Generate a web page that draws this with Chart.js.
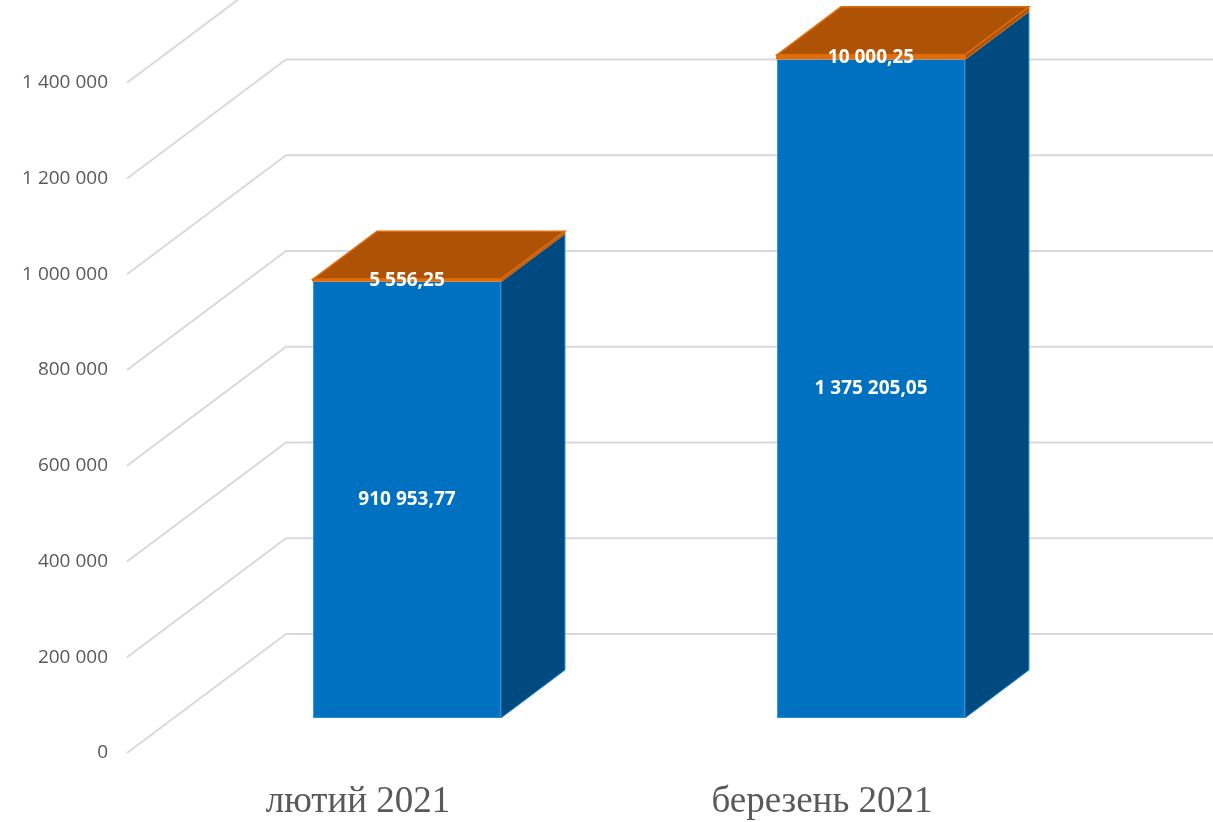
<!DOCTYPE html>
<html>
<head>
<meta charset="utf-8">
<script src="https://cdn.jsdelivr.net/npm/chart.js@4"></script>
<style>
  html, body { margin: 0; padding: 0; background: #fff; overflow: hidden; }
  canvas { display: block; }
</style>
</head>
<body>
<canvas id="chart" width="1213" height="822"></canvas>
<script>
// данi графiка
const categories   = ['лютий 2021', 'березень 2021'];
const blueValues   = [910953.77, 1375205.05];
const orangeValues = [5556.25, 10000.25];
const tickValues   = [0, 200000, 400000, 600000, 800000, 1000000, 1200000, 1400000];

// вiдступи псевдо-3D
const wallDepth = { x: 160, y: 119 };
const barShift  = { x: 49, y: 35 };
const barDepth  = { x: 64, y: 48 };

function formatTick(v) {
  return String(v).replace(/\B(?=(\d{3})+(?!\d))/g, ' ');
}
function formatValue(v) {
  const parts = v.toFixed(2).split('.');
  return formatTick(parts[0]) + ',' + parts[1];
}

function face(ctx, pts, fill, stroke, lw) {
  ctx.beginPath();
  pts.forEach((p, i) => i ? ctx.lineTo(p[0], p[1]) : ctx.moveTo(p[0], p[1]));
  ctx.closePath();
  ctx.fillStyle = fill;
  ctx.fill();
  if (stroke) {
    ctx.strokeStyle = stroke;
    ctx.lineWidth = lw || 1;
    ctx.stroke();
  }
}

const fake3d = {
  id: 'fake3d',
  beforeDatasetsDraw(chart) {
    const { ctx, chartArea, scales } = chart;
    // сiтка: дiагональ + задня стiнка
    ctx.save();
    ctx.strokeStyle = '#d9d9d9';
    ctx.lineWidth = 2;
    ctx.lineJoin = 'round';
    scales.y.ticks.forEach(t => {
      const py = scales.y.getPixelForValue(t.value);
      ctx.beginPath();
      ctx.moveTo(chartArea.left + 1, py);
      ctx.lineTo(chartArea.left + wallDepth.x, py - wallDepth.y);
      ctx.lineTo(chartArea.right + wallDepth.x, py - wallDepth.y);
      ctx.stroke();
    });
    ctx.restore();

    // бiчнi грані та верх стовпчикiв
    ctx.save();
    ctx.translate(barShift.x, -barShift.y);
    const blue = chart.getDatasetMeta(0).data;
    const orange = chart.getDatasetMeta(1).data;
    blue.forEach((b, i) => {
      const o = orange[i];
      const xr = b.x + b.width / 2;
      const xl = b.x - b.width / 2;
      face(ctx, [[xr, b.y], [xr + barDepth.x, b.y - barDepth.y], [xr + barDepth.x, b.base - barDepth.y], [xr, b.base]], '#004a7f', '#1a8fdd', 1);
      face(ctx, [[xr, o.y], [xr + barDepth.x, o.y - barDepth.y], [xr + barDepth.x, o.base - barDepth.y], [xr, o.base]], '#ad5206', '#e36c0a', 1);
      face(ctx, [[xl, o.y], [xl + barDepth.x, o.y - barDepth.y], [xr + barDepth.x, o.y - barDepth.y], [xr, o.y]], '#ae5205', '#e36c0a', 1.5);
    });
    // сам chart.js малює переднi грані в цьому ж зсувi
    ctx.restore();
    ctx.save();
    ctx.translate(barShift.x, -barShift.y);
  },
  afterDatasetsDraw(chart) {
    const { ctx } = chart;
    ctx.font = 'bold 19px "Open Sans"';
    ctx.fillStyle = '#ffffff';
    ctx.textAlign = 'center';
    ctx.textBaseline = 'middle';
    chart.data.datasets.forEach((ds, di) => {
      chart.getDatasetMeta(di).data.forEach((el, i) => {
        ctx.fillText(formatValue(ds.data[i]), el.x, (el.y + el.base) / 2);
      });
    });
    ctx.restore();
  }
};

new Chart(document.getElementById('chart'), {
  type: 'bar',
  plugins: [fake3d],
  data: {
    labels: categories,
    datasets: [
      { data: blueValues, backgroundColor: '#0070c0', borderColor: '#1a8fdd', borderWidth: 1, borderSkipped: 'top', categoryPercentage: 1, barPercentage: 0.405, clip: false },
      { data: orangeValues, backgroundColor: '#e36c0a', borderColor: '#e36c0a', borderWidth: 1, inflateAmount: 1, categoryPercentage: 1, barPercentage: 0.405, clip: false }
    ]
  },
  options: {
    responsive: false,
    animation: false,
    layout: { autoPadding: false, padding: { left: 0, right: 159, top: 0, bottom: 0 } },
    plugins: { legend: { display: false }, tooltip: { enabled: false } },
    scales: {
      x: {
        stacked: true,
        afterFit(s) { s.height = 69; },
        grid: { display: false, drawTicks: false },
        border: { display: false },
        ticks: { autoSkip: false, maxRotation: 0, padding: 27, color: '#595959', font: { family: '"Liberation Serif"', size: 37 } }
      },
      y: {
        stacked: true,
        min: 0,
        max: 1511354,
        afterFit(s) { s.width = 126; },
        afterBuildTicks(s) { s.ticks = tickValues.map(v => ({ value: v })); },
        grid: { display: false, drawTicks: false },
        border: { display: false },
        ticks: { padding: 18, color: '#595959', font: { family: '"Open Sans"', size: 19 }, callback: v => formatTick(v) }
      }
    }
  }
});
</script>
</body>
</html>
